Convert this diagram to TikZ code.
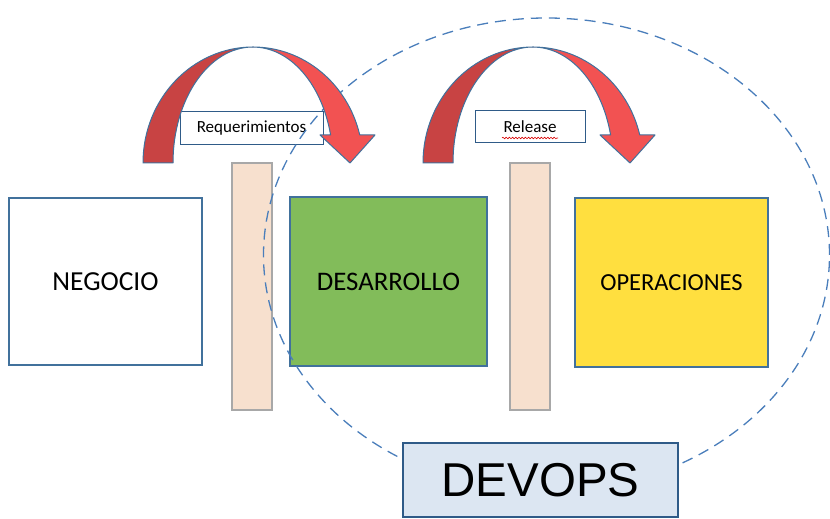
\documentclass[tikz,border=0pt]{standalone}
\usepackage{fontspec}
\newfontfamily\calib{Carlito}
\newfontfamily\arialf{Liberation Sans}
\usetikzlibrary{decorations.pathmorphing,shapes.geometric}
\definecolor{edgeblue}{HTML}{41719C}
\definecolor{darkedge}{HTML}{2F5B88}
\definecolor{dashblue}{HTML}{4A7EBB}
\definecolor{devfill}{HTML}{DCE6F2}
\definecolor{greenfill}{HTML}{82BC5A}
\definecolor{yellowfill}{HTML}{FFDF3F}
\definecolor{barfill}{HTML}{F7E0CE}
\definecolor{bargray}{HTML}{A8A8A8}
\definecolor{arrowlight}{HTML}{F25252}
\definecolor{arrowdark}{HTML}{C84343}
\tikzset{
  stagebox/.style={draw=edgeblue, line width=2.8pt, minimum width=193pt, minimum height=167pt,
    inner sep=0pt, font=\calib\fontsize{27.5}{31}\selectfont},
  wallbar/.style={draw=bargray, fill=barfill, line width=1.4pt, minimum width=40pt,
    minimum height=247pt, inner sep=0pt},
  tagbox/.style={draw=darkedge, fill=white, line width=1pt, minimum height=33pt, inner sep=0pt,
    font=\calib\fontsize{17}{20}\selectfont},
  bendarrow/.pic={
    % back face of the curved arrow
    \path[fill=arrowdark, draw=edgeblue, line width=1pt, line join=round]
      (-110,0) arc[start angle=180, end angle=90, x radius=110, y radius=116]
      arc[start angle=90, end angle=180, x radius=80, y radius=116] -- cycle;
    % front face with the head
    \path[fill=arrowlight, draw=edgeblue, line width=1pt, line join=round]
      (0,116) arc[start angle=90, end angle=14, x radius=110, y radius=116]
      -- (122,28) -- (97,0) -- (67,28) -- (77.6,28)
      arc[start angle=14, end angle=90, x radius=80, y radius=116] -- cycle;
  }
}
\begin{document}
\begin{tikzpicture}[x=1pt, y=1pt]
\useasboundingbox (0,0) rectangle (830,519);

% the three stages
\node[stagebox, fill=white] (neg) at (105.5,237.5) {NEGOCIO};
\node[stagebox, fill=greenfill, minimum width=197pt, minimum height=169pt,
  font=\calib\fontsize{26.8}{30}\selectfont] (des) at (388.5,237.5) {DESARROLLO};
\node[stagebox, fill=yellowfill, minimum height=169pt,
  font=\calib\fontsize{24.5}{28}\selectfont] (ope) at (671.5,236.5) {OPERACIONES};

% walls between stages
\node[wallbar] (wall1) at (252,232.5) {};
\node[wallbar] (wall2) at (530,232.5) {};

% hand-off labels
\node[tagbox, minimum width=143pt] (req) at (251.5,391) {Requerimientos};
\node[tagbox, minimum width=110pt, minimum height=32pt] (rel) at (530,392) {Release};
\draw[red!85!black, line width=0.6pt, decorate,
  decoration={snake, segment length=3.2pt, amplitude=0.8pt}]
  ([shift={(-28,-11)}]rel.center) -- ([shift={(28,-11)}]rel.center);

% DevOps scope
\node[draw=dashblue, dash pattern=on 11pt off 7pt, line width=1.3pt, ellipse,
  minimum width=566pt, minimum height=474pt, inner sep=0pt] (scope) at (546.5,264) {};

% hand-off arrows
\pic at (253,356) {bendarrow};
\pic at (533,356) {bendarrow};

% DevOps label
\node[draw=darkedge, fill=devfill, line width=2.4pt, minimum width=275pt, minimum height=74pt,
  inner sep=0pt, font=\arialf\fontsize{47.5}{52}\selectfont] (devops) at (540.5,39) {DEVOPS};
\end{tikzpicture}
\end{document}
